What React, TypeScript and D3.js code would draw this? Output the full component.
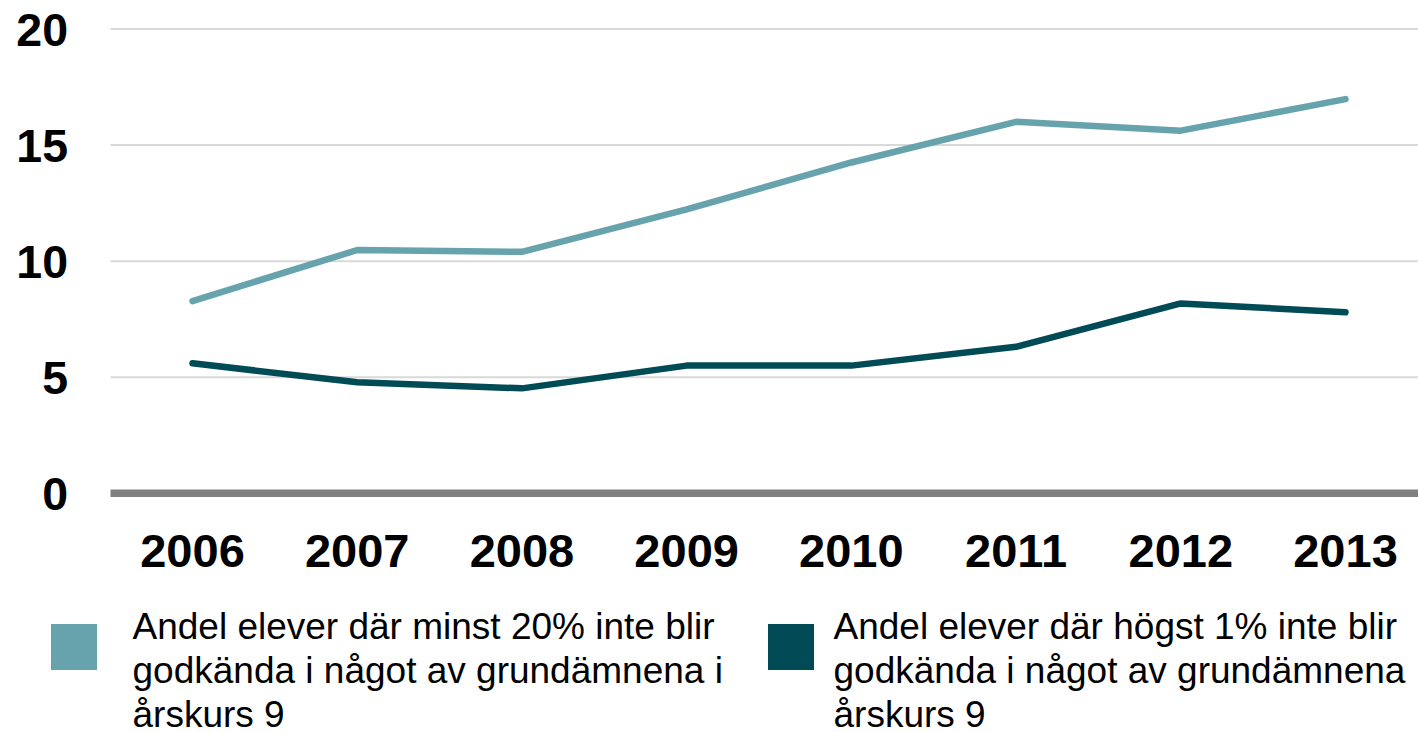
import React from "react";
import * as d3 from "d3";

const years = ["2006", "2007", "2008", "2009", "2010", "2011", "2012", "2013"];
const minst20 = [8.28, 10.48, 10.4, 12.23, 14.25, 16.0, 15.62, 16.98];
const hogst1 = [5.6, 4.78, 4.52, 5.5, 5.5, 6.31, 8.18, 7.8];
const yTicks = [0, 5, 10, 15, 20];
const legendA = ["Andel elever där minst 20% inte blir", "godkända i något av grundämnena i", "årskurs 9"];
const legendB = ["Andel elever där högst 1% inte blir", "godkända i något av grundämnena", "årskurs 9"];

const LIGHT = "#67A3AD";
const DARK = "#004B55";
const FONT = "'Liberation Sans', Arial, sans-serif";

export default function App() {
  const W = 1418;
  const H = 732;
  const x = d3.scalePoint<string>().domain(years).range([192.5, 1345.5]);
  const y = d3.scaleLinear().domain([0, 20]).range([493.3, 29]);
  const line = d3
    .line<number>()
    .x((_, i) => x(years[i]) as number)
    .y((d) => y(d));

  const legends = [
    { color: LIGHT, lines: legendA, sx: 51, tx: 132.5 },
    { color: DARK, lines: legendB, sx: 768, tx: 833.5 },
  ];

  return (
    <div style={{ position: "absolute", left: 0, top: 0 }}>
      <svg width={W} height={H} style={{ display: "block", background: "#fff" }} fontFamily={FONT}>
        {yTicks
          .filter((t) => t !== 0)
          .map((t) => (
            <line key={t} x1={110.5} x2={W} y1={y(t)} y2={y(t)} stroke="#d9d9d9" strokeWidth={2} />
          ))}
        {yTicks.map((t) => (
          <text
            key={"l" + t}
            x={68}
            y={y(t) + 16.5}
            textAnchor="end"
            fontSize={46.5}
            fontWeight="bold"
            fill="#000"
          >
            {t}
          </text>
        ))}
        <line x1={110.5} x2={W} y1={y(0)} y2={y(0)} stroke="#808080" strokeWidth={7.5} />
        {years.map((yr) => (
          <text
            key={yr}
            x={x(yr)}
            y={566.5}
            textAnchor="middle"
            fontSize={47}
            fontWeight="bold"
            fill="#000"
          >
            {yr}
          </text>
        ))}
        <path d={line(minst20) || ""} fill="none" stroke={LIGHT} strokeWidth={6.5} strokeLinecap="round" strokeLinejoin="round" />
        <path d={line(hogst1) || ""} fill="none" stroke={DARK} strokeWidth={6.5} strokeLinecap="round" strokeLinejoin="round" />
        {legends.map((lg, k) => (
          <g key={k}>
            <rect x={lg.sx} y={624} width={46} height={46} fill={lg.color} />
            <text x={lg.tx} y={638.5} fontSize={37} fill="#000">
              {lg.lines.map((l, i) => (
                <tspan key={i} x={lg.tx} dy={i === 0 ? 0 : 44}>
                  {l}
                </tspan>
              ))}
            </text>
          </g>
        ))}
      </svg>
    </div>
  );
}
